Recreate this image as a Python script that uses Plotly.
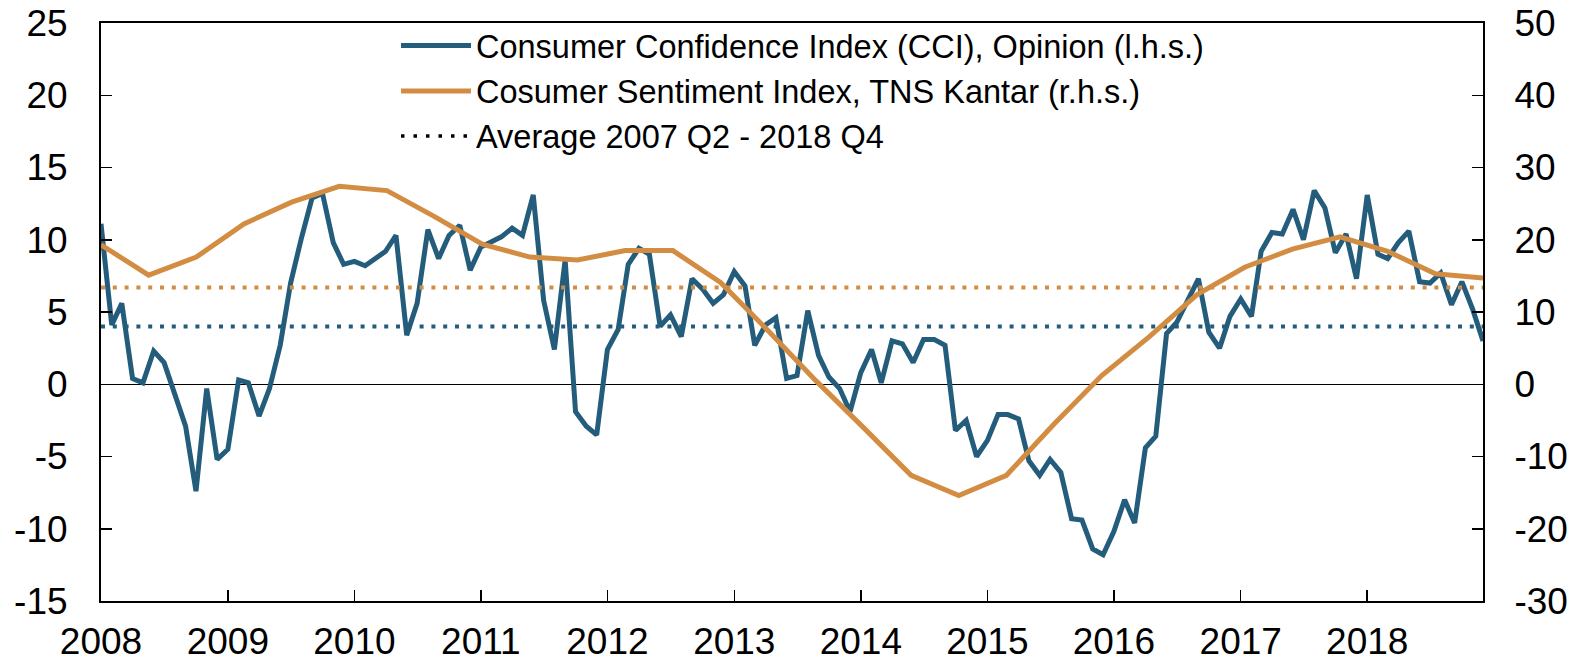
import plotly.graph_objects as go
import pandas as pd

# ---------------- data ----------------
cci_start = "2008-01-01"
cci_values = [
    11.1, 4.1, 5.6, 0.4, 0.1, 2.3, 1.5, -0.7, -2.9, -7.4, -0.3, -5.2,      # 2008
    -4.5, 0.3, 0.1, -2.2, -0.3, 2.7, 7.0, 10.1, 12.9, 13.2, 9.8, 8.3,      # 2009
    8.5, 8.2, 8.7, 9.2, 10.3, 3.4, 5.6, 10.7, 8.7, 10.3, 11.0, 7.9,        # 2010
    9.5, 9.9, 10.2, 10.8, 10.3, 13.1, 5.8, 2.4, 8.6, -1.9, -2.9, -3.5,     # 2011
    2.4, 3.8, 8.3, 9.4, 9.0, 4.0, 4.8, 3.3, 7.3, 6.6, 5.6, 6.2,            # 2012
    7.8, 6.8, 2.7, 4.1, 4.6, 0.4, 0.6, 5.1, 2.0, 0.5, -0.3, -1.9,          # 2013
    0.8, 2.4, 0.1, 3.0, 2.8, 1.5, 3.1, 3.1, 2.7, -3.2, -2.5, -5.0,         # 2014
    -3.9, -2.1, -2.1, -2.4, -5.3, -6.3, -5.2, -6.1, -9.3, -9.4, -11.4, -11.8,  # 2015
    -10.2, -8.0, -9.6, -4.4, -3.6, 3.5, 4.3, 5.8, 7.3, 3.6, 2.5, 4.7,      # 2016
    5.9, 4.7, 9.2, 10.5, 10.4, 12.1, 10.0, 13.4, 12.2, 9.1, 10.4, 7.3,     # 2017
    13.1, 9.0, 8.7, 9.8, 10.6, 7.1, 7.0, 7.7, 5.5, 7.1, 5.2, 3.0,          # 2018
]
csi_values = [
    19.3, 15.1, 17.6, 22.2, 25.2, 27.4, 26.8, 23.2, 19.4, 17.6,
    17.2, 18.5, 18.5, 14.1, 7.4, 0.5, -6.0, -12.6, -15.4, -12.6,
    -5.5, 1.2, 6.6, 12.4, 16.2, 18.7, 20.4, 18.4, 15.3, 14.7,
]
avg_cci = 4.0
avg_csi = 13.4

left_ticks = [25, 20, 15, 10, 5, 0, -5, -10, -15]
right_ticks = [50, 40, 30, 20, 10, 0, -10, -20, -30]

legend_labels = [
    "Consumer Confidence Index (CCI), Opinion (l.h.s.)",
    "Cosumer Sentiment Index, TNS Kantar (r.h.s.)",
    "Average 2007 Q2 - 2018 Q4",
]

# ---------------- style ----------------
BLUE = "#245C7C"
ORANGE = "#D38D43"
FONT = "Liberation Sans, Arial, sans-serif"
W, H = 1577, 663
ML, MT = 101, 23              # plot area: x 101..1483, y 23..601
PW, PH = 1382, 578
MR, MB = W - ML - PW, H - MT - PH

dates = pd.date_range(cci_start, periods=len(cci_values), freq="MS")
x_first, x_last = dates[0], dates[-1]
csi_idx = list(range(len(csi_values)))

fig = go.Figure()

fig.add_trace(go.Scatter(
    x=[x_first, x_last], y=[avg_cci, avg_cci], mode="lines",
    line=dict(color=BLUE, width=4, dash="4px,7.8px"),
    hoverinfo="skip", showlegend=False))

fig.add_trace(go.Scatter(
    x=dates, y=cci_values, mode="lines",
    line=dict(color=BLUE, width=5),
    name=legend_labels[0], showlegend=False))

fig.add_trace(go.Scatter(
    x=[csi_idx[0], csi_idx[-1]], y=[avg_csi, avg_csi], mode="lines",
    xaxis="x2", yaxis="y2",
    line=dict(color=ORANGE, width=4, dash="4px,7.8px"),
    hoverinfo="skip", showlegend=False))

fig.add_trace(go.Scatter(
    x=csi_idx, y=csi_values, mode="lines",
    xaxis="x2", yaxis="y2",
    line=dict(color=ORANGE, width=5),
    name=legend_labels[1], showlegend=False))

axis_common = dict(showline=True, linecolor="black", linewidth=2,
                   ticks="inside", ticklen=11, tickwidth=1.5, tickcolor="black",
                   showgrid=False, automargin=False, ticklabeloverflow="allow",
                   tickfont=dict(family=FONT, size=37, color="black"))

fig.update_layout(
    width=W, height=H,
    margin=dict(l=ML, r=MR, t=MT, b=MB, pad=0, autoexpand=False),
    paper_bgcolor="white", plot_bgcolor="white",
    font=dict(family=FONT, color="black"),
    showlegend=False,
    xaxis=dict(
        type="date", range=[x_first, x_last],
        tickmode="linear", tick0="2008-01-01", dtick="M12", tickformat="%Y",
        mirror=True, ticklabelstandoff=7, **axis_common),
    xaxis2=dict(overlaying="x", range=[csi_idx[0], csi_idx[-1]], visible=False,
                anchor="y2", automargin=False),
    yaxis=dict(
        range=[-15, 25], tickmode="array", tickvals=left_ticks,
        ticktext=[str(v) for v in left_ticks],
        zeroline=True, zerolinecolor="black", zerolinewidth=1.5,
        ticklabelstandoff=24, **axis_common),
    yaxis2=dict(
        range=[-30, 50], overlaying="y", side="right", anchor="x2",
        tickmode="array", tickvals=right_ticks,
        ticktext=[str(v) for v in right_ticks],
        zeroline=False, ticklabelstandoff=22, **axis_common),
)

# manual legend (positions given in page pixels)
def px_x(px):
    return (px - ML) / PW

def px_y(py):
    return (MT + PH - py) / PH

leg_rows = [45.5, 91, 136]
leg_styles = [dict(color=BLUE, width=5),
              dict(color=ORANGE, width=5),
              dict(color="black", width=3.5, dash="3.5px,9px")]
for label, ry, st in zip(legend_labels, leg_rows, leg_styles):
    fig.add_shape(type="line", xref="paper", yref="paper",
                  x0=px_x(401), x1=px_x(471), y0=px_y(ry), y1=px_y(ry),
                  line=st)
    fig.add_annotation(xref="paper", yref="paper", x=px_x(474), y=px_y(ry + 1),
                       xanchor="left", yanchor="middle", showarrow=False,
                       text=label, font=dict(family=FONT, size=32.5, color="black"))

# remove the browser's default 8px body margin so the figure sits at the page origin
fig.write_html("out.html",
               config={"displayModeBar": False, "staticPlot": True},
               post_script="document.body.style.margin='0';document.body.style.overflow='hidden';")
